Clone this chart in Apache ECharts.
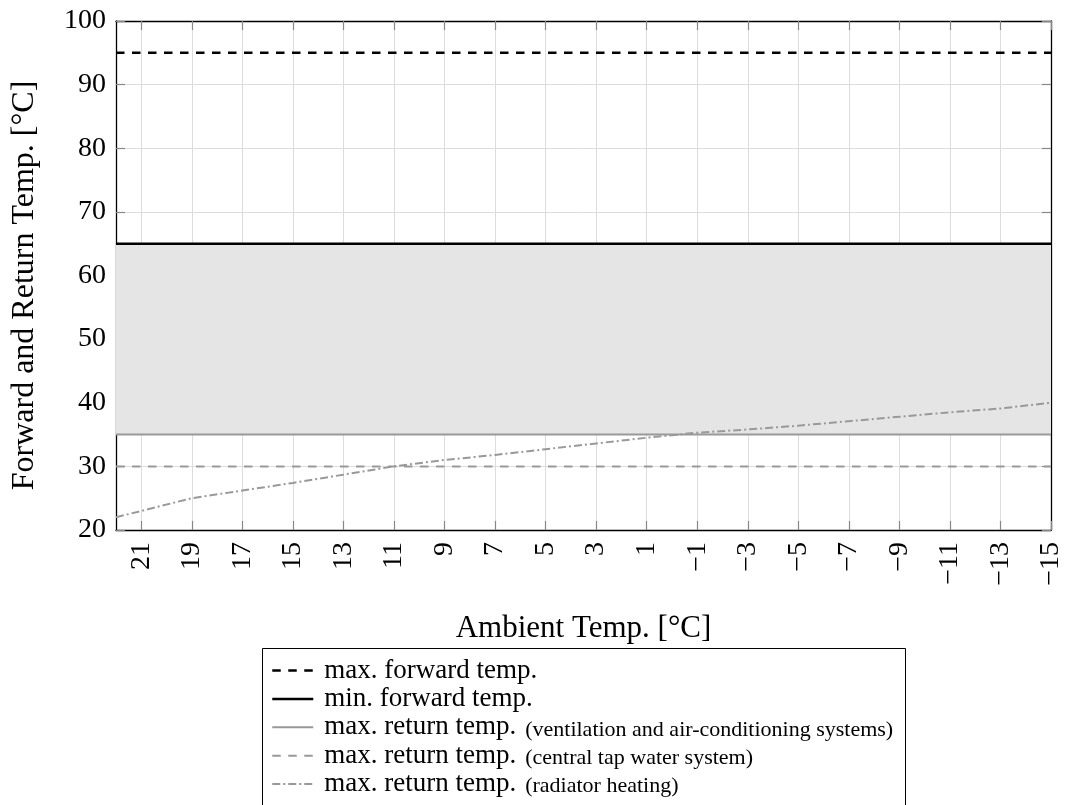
<!DOCTYPE html>
<html>
<head>
<meta charset="utf-8">
<script src="https://cdn.jsdelivr.net/npm/echarts@6/dist/echarts.min.js"></script>
<style>
  html, body { margin: 0; padding: 0; background: #fff; }
  #chart { width: 1065px; height: 805px; }
</style>
</head>
<body>
<div id="chart"></div>
<script>
// ---- data ----
const ambientTemps = [22, 21, 20, 19, 18, 17, 16, 15, 14, 13, 12, 11, 10, 9, 8, 7, 6, 5, 4, 3, 2, 1, 0,
  -1, -2, -3, -4, -5, -6, -7, -8, -9, -10, -11, -12, -13, -14, -15];
const xTickLabels = [21, 19, 17, 15, 13, 11, 9, 7, 5, 3, 1, -1, -3, -5, -7, -9, -11, -13, -15];
const yTicks = [20, 30, 40, 50, 60, 70, 80, 90, 100];

const maxForwardTemp = 95;
const minForwardTemp = 65;
const maxReturnVentilation = 35;
const maxReturnTapWater = 30;

const radiatorX = [22, 21, 19, 17, 15, 13, 11, 9, 7, 5, 3, 1, -1, -3, -5, -7, -9, -11, -13, -15];
const radiatorY = [22.0, 23.0, 25.0, 26.2, 27.4, 28.7, 30.0, 31.0, 31.8, 32.7, 33.6, 34.5, 35.3, 35.8, 36.4, 37.1, 37.8, 38.5, 39.1, 40.0];

const seriesNames = [
  'max. forward temp.',
  'min. forward temp.',
  'max. return temp. (ventilation and air-conditioning systems)',
  'max. return temp. (central tap water system)',
  'max. return temp. (radiator heating)'
];

// ---- build ----
const cats = ambientTemps.map(String);
const first = cats[0], last = cats[cats.length - 1];
const flat = v => [[first, v], [last, v]];
const tickSet = new Set(xTickLabels.map(String));
const showTick = (idx, val) => tickSet.has(String(val));

const FONT = "'Liberation Serif', 'DejaVu Serif', serif";
const GREY = '#999999';

const chart = echarts.init(document.getElementById('chart'), null, { renderer: 'canvas' });

const option = {
  animation: false,
  backgroundColor: '#ffffff',
  textStyle: { fontFamily: FONT, color: '#000' },
  grid: { left: 116, right: 13, top: 21, bottom: 275, containLabel: false },
  xAxis: [
    {
      type: 'category',
      data: cats,
      boundaryGap: false,
      position: 'bottom',
      name: 'Ambient Temp. [°C]',
      nameLocation: 'middle',
      nameGap: 83,
      nameTextStyle: { fontFamily: FONT, fontSize: 31, color: '#000' },
      axisLine: { show: true, onZero: false, lineStyle: { color: '#000', width: 1.3 } },
      axisTick: { show: true, inside: true, length: 9, interval: showTick, lineStyle: { color: '#888', width: 1.2 } },
      axisLabel: {
        show: true, interval: showTick, rotate: 90, margin: 12,
        fontFamily: FONT, fontSize: 28, color: '#000',
        formatter: v => String(v).replace('-', '\u2212')
      },
      splitLine: { show: true, interval: showTick, lineStyle: { color: '#dcdcdc', width: 1 } }
    },
    {
      type: 'category',
      data: cats,
      boundaryGap: false,
      position: 'top',
      axisLine: { show: true, onZero: false, lineStyle: { color: '#000', width: 1.3 } },
      axisTick: { show: true, inside: true, length: 9, interval: showTick, lineStyle: { color: '#888', width: 1.2 } },
      axisLabel: { show: false },
      splitLine: { show: false }
    }
  ],
  yAxis: [
    {
      type: 'value',
      min: yTicks[0], max: yTicks[yTicks.length - 1], interval: 10,
      position: 'left',
      name: 'Forward and Return Temp. [°C]',
      nameLocation: 'middle',
      nameGap: 75,
      nameTextStyle: { fontFamily: FONT, fontSize: 32, color: '#000', padding: [0, 20, 0, 0] },
      axisLine: { show: true, lineStyle: { color: '#000', width: 1.3 } },
      axisTick: { show: true, inside: true, length: 9, lineStyle: { color: '#888', width: 1.2 } },
      axisLabel: { show: true, margin: 10, fontFamily: FONT, fontSize: 28, color: '#000' },
      splitLine: { show: true, lineStyle: { color: '#dcdcdc', width: 1 } }
    },
    {
      type: 'value',
      min: yTicks[0], max: yTicks[yTicks.length - 1], interval: 10,
      position: 'right',
      axisLine: { show: true, lineStyle: { color: '#000', width: 1.3 } },
      axisTick: { show: true, inside: true, length: 9, lineStyle: { color: '#888', width: 1.2 } },
      axisLabel: { show: false },
      splitLine: { show: false }
    }
  ],
  legend: {
    orient: 'vertical',
    left: 271,
    top: 657,
    padding: 0,
    itemWidth: 41,
    itemHeight: 14,
    itemGap: 1.4,
    data: seriesNames,
    itemStyle: { opacity: 0, color: 'rgba(0,0,0,0)', borderWidth: 0 },
    lineStyle: { width: 'inherit' },
    formatter: name => {
      const i = name.indexOf(' (');
      if (i < 0) return '{a|' + name + '}';
      return '{a|' + name.slice(0, i) + '}{b|' + name.slice(i + 1) + '}';
    },
    textStyle: {
      fontFamily: FONT,
      color: '#000',
      rich: {
        a: { fontFamily: FONT, fontSize: 27, lineHeight: 27, color: '#000', padding: [0, 0, 0, 6] },
        b: { fontFamily: FONT, fontSize: 22, lineHeight: 22, color: '#000', padding: [0, 0, 0, 9], verticalAlign: 'bottom' }
      }
    }
  },
  graphic: [
    {
      type: 'rect',
      silent: true,
      shape: { x: 262.5, y: 648.5, width: 643, height: 200 },
      style: { fill: 'none', stroke: '#000', lineWidth: 1 },
      z: 100
    }
  ],
  series: [
    {
      name: seriesNames[0], type: 'line', symbol: 'none', data: flat(maxForwardTemp),
      lineStyle: { color: '#000', width: 2.5, type: [8.5, 7.5] }, itemStyle: { color: '#000' }, z: 5
    },
    {
      name: seriesNames[1], type: 'line', symbol: 'none', data: flat(minForwardTemp),
      lineStyle: { color: '#000', width: 2.5 }, itemStyle: { color: '#000' },
      areaStyle: { color: '#e5e5e5', opacity: 1, origin: maxReturnVentilation }, z: 3
    },
    {
      name: seriesNames[2], type: 'line', symbol: 'none', data: flat(maxReturnVentilation),
      lineStyle: { color: GREY, width: 2 }, itemStyle: { color: GREY }, z: 5
    },
    {
      name: seriesNames[3], type: 'line', symbol: 'none', data: flat(maxReturnTapWater),
      lineStyle: { color: GREY, width: 2, type: [8.5, 7.5] }, itemStyle: { color: GREY }, z: 5
    },
    {
      name: seriesNames[4], type: 'line', symbol: 'none',
      data: radiatorX.map((x, i) => [String(x), radiatorY[i]]),
      lineStyle: { color: GREY, width: 2, type: [8, 3, 2, 3] }, itemStyle: { color: GREY }, z: 6
    }
  ]
};

chart.setOption(option);
</script>
</body>
</html>
